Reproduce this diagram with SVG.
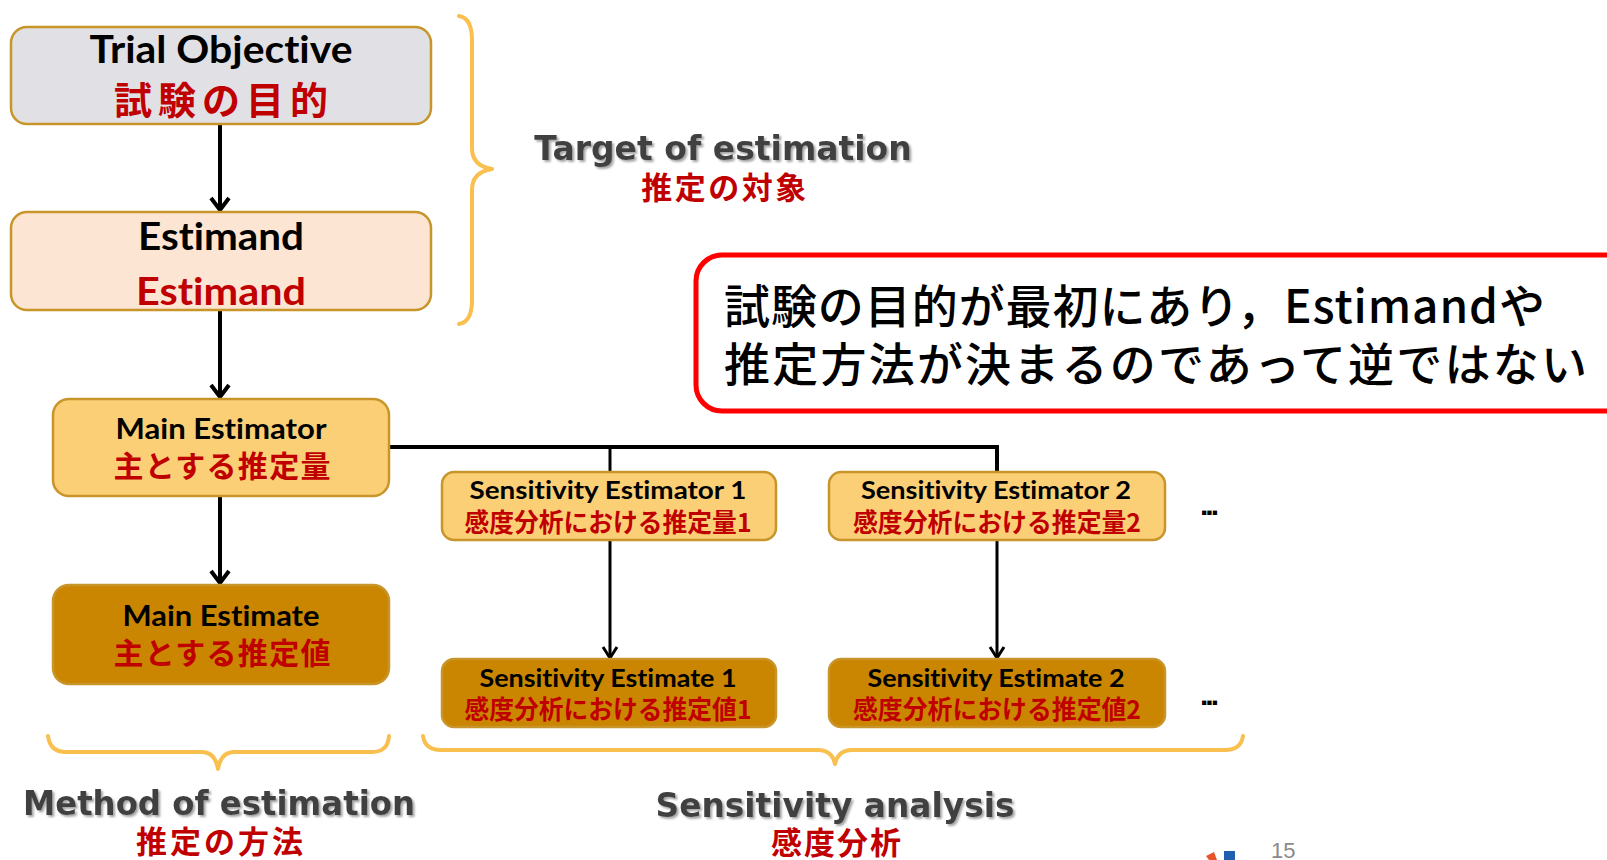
<svg xmlns="http://www.w3.org/2000/svg" width="1607" height="860" viewBox="0 0 1607 860">
<defs>
<style>
.box{stroke:#C8952A;stroke-width:2.5}
.trial{fill:#E1E1E5}
.estd{fill:#FCE5D3}
.light{fill:#FBCF76}
.dark{fill:#CA8600}
.en{font-family:Lato,"Liberation Sans",sans-serif;font-weight:bold;fill:#000;text-anchor:middle;font-variant-ligatures:none}
.jp{font-family:"Noto Sans CJK JP",sans-serif;font-weight:bold;fill:#C00000;text-anchor:middle}
.red{fill:#C00000}
.lbl{font-family:"DejaVu Sans",Verdana,sans-serif;font-weight:bold;fill:#3F3F3F;text-anchor:middle;font-size:33px}
.lbljp{font-family:"Noto Sans CJK JP",sans-serif;font-weight:bold;fill:#C00000;text-anchor:middle;font-size:31px}
.conn{stroke:#000;fill:none}
.brace{stroke:#F9BF4F;stroke-width:4;fill:none;stroke-linecap:round;stroke-linejoin:round}
.callout{font-family:"Noto Sans CJK JP",sans-serif;font-weight:500;font-size:46px;fill:#000}
.dots{font-family:"Liberation Sans",sans-serif;font-weight:bold;font-size:30px;fill:#000;letter-spacing:-3px}
</style>
<marker id="ah" markerUnits="userSpaceOnUse" viewBox="-14 -12 16 24" markerWidth="16" markerHeight="24" refX="0" refY="0" orient="auto">
<path d="M-12,-9 L0,0 L-12,9" fill="none" stroke="#000" stroke-width="4"/>
</marker>
<marker id="ahs" markerUnits="userSpaceOnUse" viewBox="-14 -12 16 24" markerWidth="16" markerHeight="24" refX="0" refY="0" orient="auto">
<path d="M-11,-7 L0,0 L-11,7" fill="none" stroke="#000" stroke-width="3"/>
</marker>
<filter id="sh" x="-5%" y="-20%" width="110%" height="140%">
<feDropShadow dx="2" dy="2" stdDeviation="1.2" flood-color="#9a9a9a" flood-opacity="0.9"/>
</filter>
</defs>
<rect width="1607" height="860" fill="#fff"/>

<g id="connectors">
<line class="conn" x1="220" y1="124" x2="220" y2="210" stroke-width="4" marker-end="url(#ah)"/>
<line class="conn" x1="220" y1="310" x2="220" y2="397" stroke-width="4" marker-end="url(#ah)"/>
<line class="conn" x1="220" y1="496" x2="220" y2="583" stroke-width="4" marker-end="url(#ah)"/>
<polyline class="conn" points="389,447 997,447 997,472" stroke-width="4"/>
<line class="conn" x1="610" y1="447" x2="610" y2="472" stroke-width="3"/>
<line class="conn" x1="610" y1="540" x2="610" y2="658" stroke-width="3" marker-end="url(#ahs)"/>
<line class="conn" x1="997" y1="540" x2="997" y2="658" stroke-width="3" marker-end="url(#ahs)"/>
</g>

<g id="trial-objective">
<rect class="box trial" x="11" y="27" width="420" height="97" rx="16"/>
<text class="en" x="221" y="63" font-size="38" textLength="263" lengthAdjust="spacingAndGlyphs">Trial Objective</text>
<text class="jp" x="224" y="114" font-size="38" letter-spacing="6">試験の目的</text>
</g>

<g id="estimand">
<rect class="box estd" x="11" y="212" width="420" height="98" rx="16"/>
<text class="en" x="221" y="250" font-size="38" textLength="166" lengthAdjust="spacingAndGlyphs">Estimand</text>
<text class="en red" x="221" y="305" font-size="38" textLength="170" lengthAdjust="spacingAndGlyphs">Estimand</text>
</g>

<g id="main-estimator">
<rect class="box light" x="53" y="399" width="336" height="97" rx="16"/>
<text class="en" x="221" y="439" font-size="29" textLength="211" lengthAdjust="spacingAndGlyphs">Main Estimator</text>
<text class="jp" x="222" y="477" font-size="30" textLength="217" lengthAdjust="spacing">主とする推定量</text>
</g>

<g id="main-estimate">
<rect class="box dark" x="53" y="585" width="336" height="99" rx="16"/>
<text class="en" x="221" y="626" font-size="29" textLength="197" lengthAdjust="spacingAndGlyphs">Main Estimate</text>
<text class="jp" x="222" y="664" font-size="30" textLength="217" lengthAdjust="spacing">主とする推定値</text>
</g>

<g id="sens-estimator-1">
<rect class="box light" x="442" y="472" width="334" height="68" rx="12"/>
<text class="en" x="608" y="499" font-size="25" textLength="277" lengthAdjust="spacingAndGlyphs">Sensitivity Estimator  1</text>
<text class="jp" x="608" y="532" font-size="26" textLength="287" lengthAdjust="spacingAndGlyphs">感度分析における推定量1</text>
</g>

<g id="sens-estimator-2">
<rect class="box light" x="829" y="472" width="336" height="68" rx="12"/>
<text class="en" x="996" y="499" font-size="25" textLength="270" lengthAdjust="spacingAndGlyphs">Sensitivity Estimator 2</text>
<text class="jp" x="997" y="532" font-size="26" textLength="288" lengthAdjust="spacingAndGlyphs">感度分析における推定量2</text>
</g>

<g id="sens-estimate-1">
<rect class="box dark" x="442" y="659" width="334" height="68" rx="12"/>
<text class="en" x="608" y="687" font-size="25" textLength="257" lengthAdjust="spacingAndGlyphs">Sensitivity Estimate 1</text>
<text class="jp" x="608" y="719" font-size="26" textLength="287" lengthAdjust="spacingAndGlyphs">感度分析における推定値1</text>
</g>

<g id="sens-estimate-2">
<rect class="box dark" x="829" y="659" width="336" height="68" rx="12"/>
<text class="en" x="996" y="687" font-size="25" textLength="257" lengthAdjust="spacingAndGlyphs">Sensitivity Estimate 2</text>
<text class="jp" x="997" y="719" font-size="26" textLength="288" lengthAdjust="spacingAndGlyphs">感度分析における推定値2</text>
</g>

<g id="ellipses">
<text class="dots" x="1200" y="515">...</text>
<text class="dots" x="1200" y="705">...</text>
</g>

<g id="braces">
<path class="brace" d="M459,16 Q472,18 472,40 L472,148 Q472,166 492,169 Q472,172 472,190 L472,300 Q472,322 459,324"/>
<path class="brace" d="M48,736 Q50,752 66,752 L202,752 Q215,752 218,769 Q221,752 234,752 L372,752 Q388,752 389,736"/>
<path class="brace" d="M423,736 Q425,750 441,750 L818,750 Q832,750 835,764 Q838,750 852,750 L1225,750 Q1241,750 1243,736"/>
</g>

<g id="target-label">
<text class="lbl" x="723" y="160" filter="url(#sh)">Target of estimation</text>
<text class="lbljp" x="725" y="199" letter-spacing="2.5">推定の対象</text>
</g>

<g id="method-label">
<text class="lbl" x="219" y="815" filter="url(#sh)" textLength="392" lengthAdjust="spacingAndGlyphs">Method of estimation</text>
<text class="lbljp" x="221" y="853" letter-spacing="3">推定の方法</text>
</g>

<g id="sensitivity-label">
<text class="lbl" x="835" y="817" filter="url(#sh)" textLength="359" lengthAdjust="spacingAndGlyphs">Sensitivity analysis</text>
<text class="lbljp" x="837" y="854" letter-spacing="2">感度分析</text>
</g>

<g id="callout">
<rect x="696" y="255" width="960" height="156" rx="26" fill="#fff" stroke="#FF0000" stroke-width="5"/>
<text class="callout" x="724" y="323" textLength="821" lengthAdjust="spacing">試験の目的が最初にあり，Estimandや</text>
<text class="callout" x="724" y="381" textLength="863" lengthAdjust="spacing">推定方法が決まるのであって逆ではない</text>
</g>

<g id="footer">
<path d="M1206,856 L1214,852 L1217,860 L1209,860 Z" fill="#E8542A"/>
<rect x="1224" y="851" width="11" height="9" fill="#1F5FAE"/>
<text x="1271" y="858" font-family="Liberation Sans, sans-serif" font-size="22" fill="#8A8A8A">15</text>
</g>
</svg>
